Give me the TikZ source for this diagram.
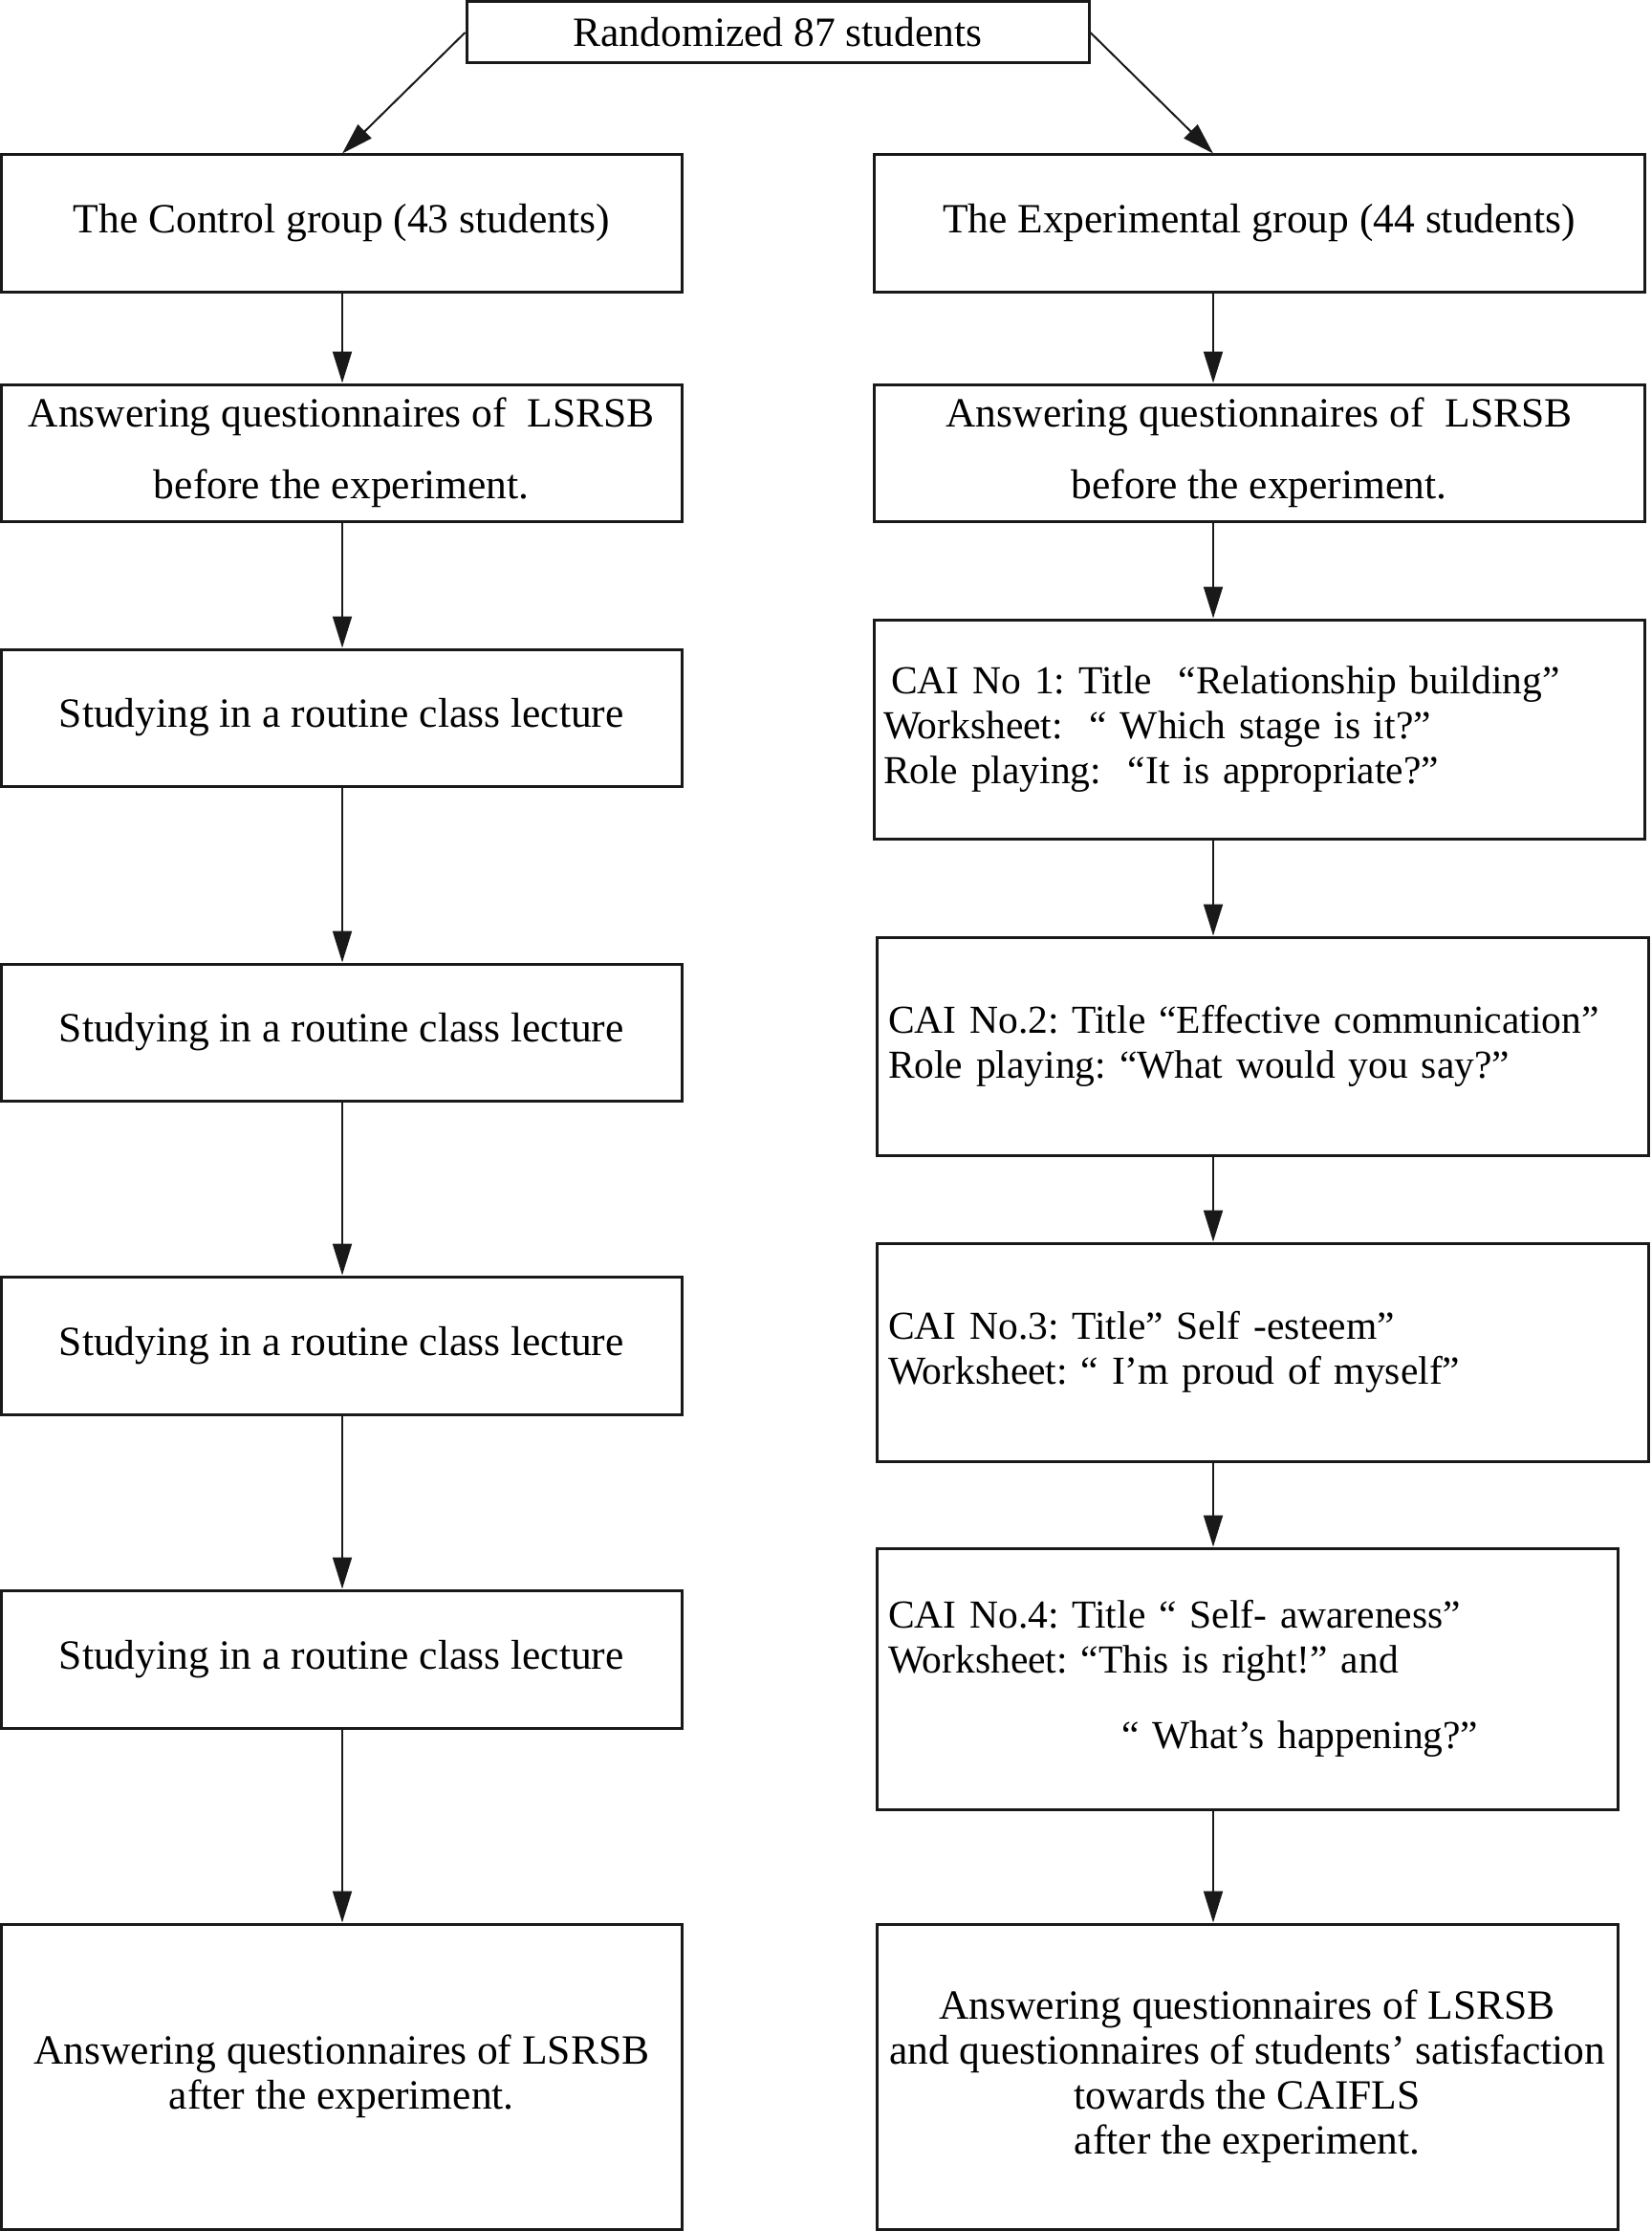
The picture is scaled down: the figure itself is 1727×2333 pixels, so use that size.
\documentclass[tikz,border=0pt]{standalone}
\usepackage{fontspec}
\setmainfont{Liberation Serif}
\usetikzlibrary{arrows.meta}
\hyphenpenalty=10000
\exhyphenpenalty=10000
\frenchspacing
\tikzset{
  box/.style={draw=black!90, line width=3pt, rectangle, inner sep=0pt, align=center,
    font=\fontsize{43.5}{47}\selectfont},
  caibox/.style={box, align=left, inner xsep=12pt, font=\fontsize{41.5}{47}\selectfont},
  arr/.style={draw=black!90, line width=2pt, -{Triangle[length=33pt,width=20pt]}},
}
\begin{document}
\begin{tikzpicture}[x=1pt,y=-1pt]
\useasboundingbox (0,0) rectangle (1727,2333);
\coordinate (colL) at (358,0);
\coordinate (colR) at (1269,0);
% top
\node[box, minimum width=651pt, minimum height=64pt] (top) at (813.5,34) {Randomized 87 students};
% left column
\node[box, minimum width=711.5pt, minimum height=143pt] (ctrl) at (357.25,233.5) {The Control group (43 students)};
\node[box, minimum width=711.5pt, minimum height=143pt] (ansL) at (357.25,473.5) {Answering questionnaires of\ \ LSRSB\\[28pt]before the experiment.};
\node[box, minimum width=711.5pt, minimum height=143pt] (stud1) at (357.25,750.5) {Studying in a routine class lecture};
\node[box, minimum width=711.5pt, minimum height=143pt] (stud2) at (357.25,1079.5) {Studying in a routine class lecture};
\node[box, minimum width=711.5pt, minimum height=144pt] (stud3) at (357.25,1407) {Studying in a routine class lecture};
\node[box, minimum width=711.5pt, minimum height=144pt] (stud4) at (357.25,1735) {Studying in a routine class lecture};
\node[box, minimum width=711.5pt, minimum height=319pt] (botL) at (357.25,2171.5) {Answering questionnaires of LSRSB\\after the experiment.};
% right column
\node[box, minimum width=806pt, minimum height=143pt] (exp) at (1317,233.5) {The Experimental group (44 students)};
\node[box, minimum width=806pt, minimum height=143pt] (ansR) at (1317,473.5) {Answering questionnaires of\ \ LSRSB\\[28pt]before the experiment.};
\node[caibox, inner xsep=10pt, text width=786pt, minimum height=229pt] (cai1) at (1317,762.5) {\hspace*{0.2em}CAI No 1: Title\ \ “Relationship building”\\Worksheet:\ \ “ Which stage is it?”\\Role playing:\ \ “It is appropriate?”};
\node[caibox, text width=783pt, minimum height=228pt] (cai2) at (1320.5,1094) {CAI No.2: Title “Effective communication”\\Role playing: “What would you say?”};
\node[caibox, text width=783pt, minimum height=228pt] (cai3) at (1320.5,1414) {CAI No.3: Title” Self -esteem”\\Worksheet: “ I’m proud of myself”};
\node[caibox, text width=751pt, minimum height=273pt] (cai4) at (1304.5,1755.5) {CAI No.4: Title “ Self- awareness”\\Worksheet: “This is right!” and\\[32pt]\hspace*{244pt}“ What’s happening?”};
\node[box, minimum width=775pt, minimum height=319pt] (botR) at (1304.5,2171.5) {Answering questionnaires of LSRSB\\and questionnaires of students’ satisfaction\\towards the CAIFLS\\after the experiment.};
% connectors
\draw[arr] (top.west) -- (ctrl.north -| colL);
\draw[arr] (top.east) -- (exp.north -| colR);
\draw[arr] (ctrl.south -| colL) -- (ansL.north -| colL);
\draw[arr] (ansL.south -| colL) -- (stud1.north -| colL);
\draw[arr] (stud1.south -| colL) -- (stud2.north -| colL);
\draw[arr] (stud2.south -| colL) -- (stud3.north -| colL);
\draw[arr] (stud3.south -| colL) -- (stud4.north -| colL);
\draw[arr] (stud4.south -| colL) -- (botL.north -| colL);
\draw[arr] (exp.south -| colR) -- (ansR.north -| colR);
\draw[arr] (ansR.south -| colR) -- (cai1.north -| colR);
\draw[arr] (cai1.south -| colR) -- (cai2.north -| colR);
\draw[arr] (cai2.south -| colR) -- (cai3.north -| colR);
\draw[arr] (cai3.south -| colR) -- (cai4.north -| colR);
\draw[arr] (cai4.south -| colR) -- (botR.north -| colR);
\end{tikzpicture}
\end{document}
